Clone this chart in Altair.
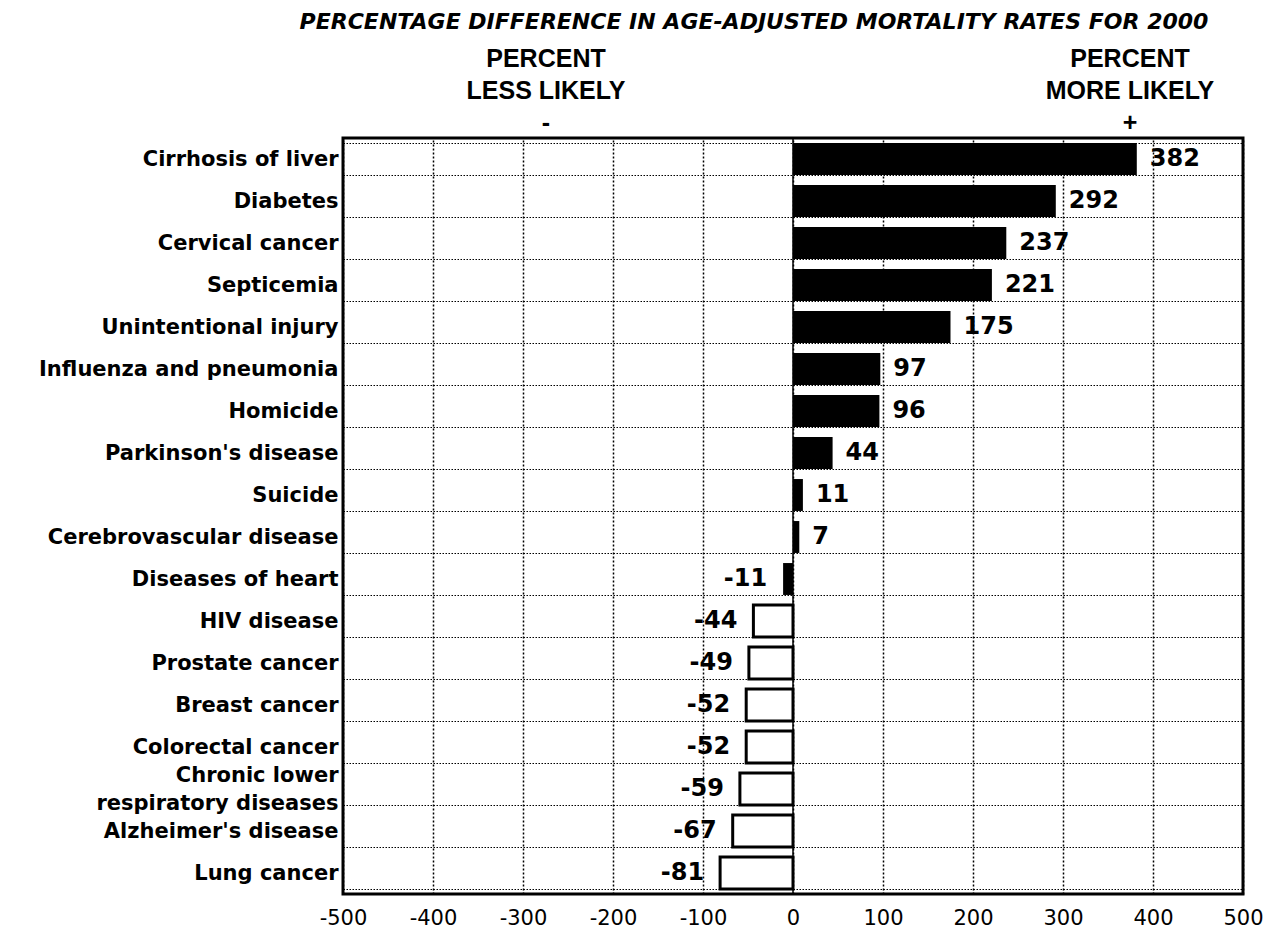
import altair as alt
import pandas as pd

# ---- data ----
causes = [
    "Cirrhosis of liver",
    "Diabetes\u00a0",
    "Cervical cancer",
    "Septicemia\u00a0",
    "Unintentional injury",
    "Influenza and pneumonia",
    "Homicide\u00a0",
    "Parkinson's disease",
    "Suicide\u00a0",
    "Cerebrovascular disease",
    "Diseases of heart",
    "HIV disease\u00a0",
    "Prostate cancer",
    "Breast cancer\u00a0",
    "Colorectal cancer",
    "Chronic lower\u00a0|respiratory diseases",
    "Alzheimer's disease",
    "Lung cancer\u00a0",
]
values = [382, 292, 237, 221, 175, 97, 96, 44, 11, 7, -11, -44, -49, -52, -52, -59, -67, -81]
x_ticks = [-500, -400, -300, -200, -100, 0, 100, 200, 300, 400, 500]

title_text = "PERCENTAGE DIFFERENCE IN AGE-ADJUSTED MORTALITY RATES FOR 2000"
header_left = ["PERCENT", "LESS LIKELY", "-"]
header_right = ["PERCENT", "MORE LIKELY", "+"]

df = pd.DataFrame({"cause": causes, "value": values})

W, H = 900, 756
LABEL_FONT = "DejaVu Sans"
HEAD_FONT = "Liberation Sans"
MULTI = "Chronic lower\u00a0|respiratory diseases"

x_scale = alt.Scale(domain=[-500, 500], nice=False, zero=False)
y_scale = alt.Scale(domain=causes, paddingInner=0.24, paddingOuter=0.12)

base = alt.Chart(df).transform_calculate(lab="toString(datum.value)")

bars = base.mark_bar(stroke="black").encode(
    x=alt.X(
        "value:Q",
        scale=x_scale,
        axis=alt.Axis(
            values=x_ticks,
            title=None,
            grid=True,
            gridDash=[2, 2],
            gridColor="black",
            gridWidth=1.5,
            gridOpacity=1,
            ticks=False,
            domain=False,
            labelExpr="replace(datum.label, '\u2212', '-')",
            labelFont=LABEL_FONT,
            labelFontSize=21,
            labelColor="black",
            labelPadding=13,
            labelFlush=False,
        ),
    ),
    x2=alt.datum(0),
    y=alt.Y(
        "cause:N",
        scale=y_scale,
        sort=None,
        axis=alt.Axis(
            title=None,
            grid=True,
            tickBand="extent",
            gridDash=[1.5, 1.5],
            gridColor="black",
            gridWidth=1,
            gridOpacity=1,
            ticks=False,
            domain=False,
            labelExpr="split(datum.label, '|')",
            labelFont=LABEL_FONT,
            labelFontSize=21,
            labelFontWeight="bold",
            labelColor="black",
            labelPadding=5,
            labelLineHeight=28,
            labelLimit=400,
            labelOffset={"condition": {"test": f"datum.value == '{MULTI}'", "value": -14}, "value": 0},
        ),
    ),
    fill=alt.condition("datum.value > -20", alt.value("black"), alt.value("white")),
    strokeWidth=alt.condition("datum.value > -20", alt.value(0), alt.value(3)),
)

zero_rule = alt.Chart(pd.DataFrame({"z": [0]})).mark_rule(color="black", strokeWidth=1.5).encode(
    x=alt.X("z:Q", scale=x_scale)
)

pos_labels = base.transform_filter("datum.value > 0").mark_text(
    align="left", baseline="middle", dx=13, font=LABEL_FONT, fontWeight="bold", fontSize=24, color="black"
).encode(x=alt.X("value:Q", scale=x_scale), y=alt.Y("cause:N", scale=y_scale, sort=None), text="lab:N")

neg_labels = base.transform_filter("datum.value < 0").mark_text(
    align="right", baseline="middle", dx=-16, font=LABEL_FONT, fontWeight="bold", fontSize=24, color="black"
).encode(x=alt.X("value:Q", scale=x_scale), y=alt.Y("cause:N", scale=y_scale, sort=None), text="lab:N")

frame = alt.Chart(pd.DataFrame({"f": [0]})).mark_rect(fill=None, stroke="black", strokeWidth=3).encode(
    x=alt.value(0), x2=alt.value(W), y=alt.value(0), y2=alt.value(H)
)


def text_at(txt, px, py, size, font=HEAD_FONT, italic=False):
    return alt.Chart(pd.DataFrame({"t": [txt]})).mark_text(
        align="center",
        baseline="middle",
        font=font,
        fontWeight="bold",
        fontStyle="italic" if italic else "normal",
        fontSize=size,
        color="black",
    ).encode(x=alt.value(px), y=alt.value(py), text="t:N")


annotations = [text_at(title_text, 411, -116, 22, font=LABEL_FONT, italic=True)]
for txt, py in zip(header_left, [-79, -47, -15]):
    annotations.append(text_at(txt, 203, py, 25))
for txt, py in zip(header_right, [-79, -47, -15]):
    annotations.append(text_at(txt, 787, py, 25))

chart = alt.layer(bars, zero_rule, pos_labels, neg_labels, frame, *annotations).properties(
    width=W,
    height=H,
    padding={"left": 335, "top": 130, "right": 27, "bottom": 35},
    autosize=alt.AutoSizeParams(type="none"),
).configure_view(stroke=None).configure(background="white")

chart.save("out.html", embed_options={"renderer": "svg", "actions": False})
